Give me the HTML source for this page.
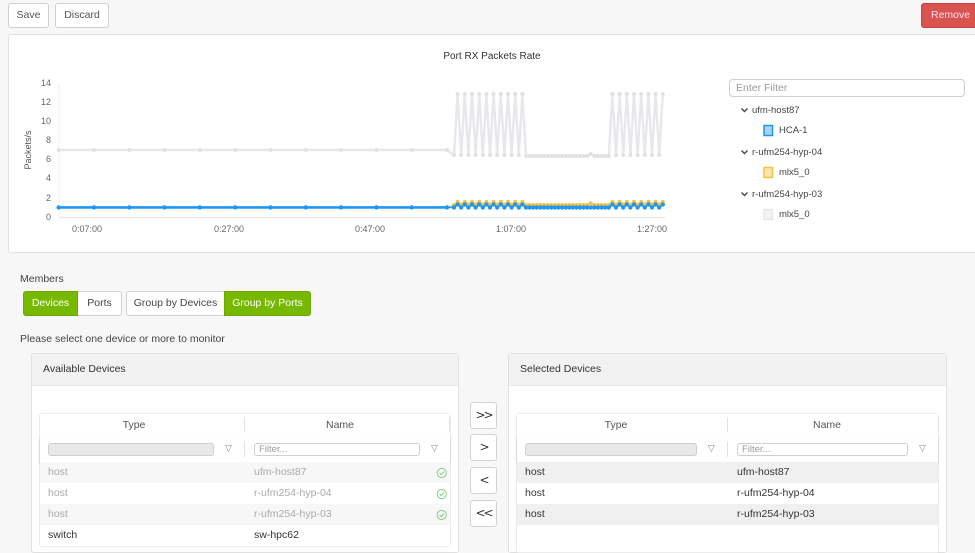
<!DOCTYPE html>
<html><head><meta charset="utf-8">
<style>
*{box-sizing:border-box;margin:0;padding:0}
html,body{width:975px;height:547px;overflow:hidden;background:#f7f7f7;font-family:"Liberation Sans",Arial,sans-serif;color:#333;font-size:10.5px}
.a{position:absolute}
.t{position:absolute;height:14px;line-height:14px;white-space:nowrap}
.btn{position:absolute;background:#fff;border:1px solid #cfcfcf;border-radius:3px;text-align:center;color:#555;font-size:10.5px}
.card{position:absolute;background:#fff;border:1px solid #e3e3e3;border-radius:3px}
.ph{position:absolute;left:0;right:0;top:0;height:32px;background:#f2f2f2;border-bottom:1px solid #e6e6e6}
.gin{position:absolute;height:13px;background:#e8e8e8;border:1px solid #cfcfcf;border-radius:3px}
.fin{position:absolute;height:13px;background:#fff;border:1px solid #cfcfcf;border-radius:3px;color:#999;font-size:9.5px;line-height:11px;padding-left:4px}
.fun{position:absolute;color:#888;font-size:9px;font-family:"DejaVu Sans",sans-serif;line-height:10px}
.div{position:absolute;width:1px;background:#e2e2e2}
.row{position:absolute;height:21px;line-height:21px;white-space:nowrap}
.arr{position:absolute;left:470px;width:27px;height:27px;background:#fff;border:1px solid #d2d2d2;border-radius:3px;text-align:center;line-height:25px;font-size:12px;color:#333;font-family:"DejaVu Sans",sans-serif;letter-spacing:-2px}
</style></head><body>

<!-- top buttons -->
<div class="btn" style="left:8px;top:3px;width:41px;height:25px;line-height:23px">Save</div>
<div class="btn" style="left:55px;top:3px;width:54px;height:25px;line-height:23px">Discard</div>
<div class="a" style="left:921px;top:3px;width:60px;height:25px;background:#d9534f;border:1px solid #c9413d;border-radius:3px;color:#fde;line-height:23px;padding-left:9px;font-size:10.5px">Remove</div>

<!-- chart card -->
<div class="card" style="left:8px;top:34px;width:975px;height:219px"></div>
<div class="t" style="left:392px;top:50px;width:200px;text-align:center;font-size:10px;color:#333">Port RX Packets Rate</div>

<svg class="a" style="left:0;top:0" width="975" height="260" xmlns="http://www.w3.org/2000/svg">
<defs>
<marker id="mg" markerUnits="userSpaceOnUse" markerWidth="5" markerHeight="5" refX="2.5" refY="2.5"><circle cx="2.5" cy="2.5" r="2" fill="#e0e1e5"/></marker>
<marker id="my" markerUnits="userSpaceOnUse" markerWidth="5" markerHeight="5" refX="2.5" refY="2.5"><circle cx="2.5" cy="2.5" r="2" fill="#f6c343"/></marker>
<marker id="mb" markerUnits="userSpaceOnUse" markerWidth="6" markerHeight="6" refX="3" refY="3"><circle cx="3" cy="3" r="2.2" fill="#2196f3"/></marker>
</defs>
<g font-family="Liberation Sans, Arial, sans-serif" font-size="9" fill="#666" text-anchor="end">
<text x="51" y="86">14</text>
<text x="51" y="105">12</text>
<text x="51" y="124">10</text>
<text x="51" y="143">8</text>
<text x="51" y="162">6</text>
<text x="51" y="181">4</text>
<text x="51" y="201">2</text>
<text x="51" y="220">0</text>
</g>
<g font-family="Liberation Sans, Arial, sans-serif" font-size="9" fill="#666" text-anchor="middle">
<text x="87" y="232">0:07:00</text>
<text x="229" y="232">0:27:00</text>
<text x="370" y="232">0:47:00</text>
<text x="511" y="232">1:07:00</text>
<text x="652" y="232">1:27:00</text>
</g>
<text x="0" y="0" transform="translate(31,150) rotate(-90)" font-family="Liberation Sans, Arial, sans-serif" font-size="9" fill="#555" text-anchor="middle">Packets/s</text>
<line x1="59" y1="83" x2="59" y2="217" stroke="#efefef" stroke-width="1"/>
<line x1="59" y1="217.5" x2="665" y2="217.5" stroke="#e8e8e8" stroke-width="1.5"/>

<!-- gray series -->
<polyline fill="none" stroke="#e7e8ec" stroke-width="2.4" stroke-linejoin="round" marker-start="url(#mg)" marker-mid="url(#mg)" marker-end="url(#mg)"
points="58.7,150 94,150 129.3,150 164.6,150 199.9,150 235.2,150 270.5,150 305.8,150 341.1,150 376.4,150 411.7,150 447,150 454,155 457.6,94 461.2,155 464.8,94 468.4,155 472,94 475.6,155 479.2,94 482.8,155 486.4,94 490,155 493.6,94 497.2,155 500.8,94 504.4,155 508,94 511.6,155 515.2,94 518.8,155 522.4,94 526,156 529.6,156 533.2,156 536.8,156 540.4,156 544,156 547.6,156 551.2,156 554.8,156 558.4,156 562,156 565.6,156 569.2,156 572.8,156 576.4,156 580,156 583.6,156 587.2,156 590.8,154 594.4,156 598,156 601.6,156 605.2,156 608.8,156 612.4,94 616,155 619.6,94 623.2,155 626.8,94 630.4,155 634,94 637.6,155 641.2,94 644.8,155 648.4,94 652,155 655.6,94 659.2,155 662.8,94"/>

<!-- yellow series -->
<polyline fill="none" stroke="#f8cf5e" stroke-width="1.5" marker-start="url(#my)" marker-mid="url(#my)" marker-end="url(#my)"
points="58.7,207.4 94,207.4 129.3,207.4 164.6,207.4 199.9,207.4 235.2,207.4 270.5,207.4 305.8,207.4 341.1,207.4 376.4,207.4 411.7,207.4 447,207.4 454,205 457.6,201.7 461.2,204.5 464.8,201.7 468.4,204.5 472,201.7 475.6,204.5 479.2,201.7 482.8,204.5 486.4,201.7 490,204.5 493.6,201.7 497.2,204.5 500.8,201.7 504.4,204.5 508,201.7 511.6,204.5 515.2,201.7 518.8,204.5 522.4,201.7 526,205 529.6,205 533.2,205 536.8,205 540.4,205 544,205 547.6,205 551.2,205 554.8,205 558.4,205 562,205 565.6,205 569.2,205 572.8,205 576.4,205 580,205 583.6,205 587.2,205 590.8,203.3 594.4,205 598,205 601.6,205 605.2,205 608.8,205 612.4,201.7 616,204.5 619.6,201.7 623.2,204.5 626.8,201.7 630.4,204.5 634,201.7 637.6,204.5 641.2,201.7 644.8,204.5 648.4,201.7 652,204.5 655.6,201.7 659.2,204.5 662.8,201.7"/>

<!-- blue series -->
<polyline fill="none" stroke="#2196f3" stroke-width="2.6" stroke-linejoin="round" marker-start="url(#mb)" marker-mid="url(#mb)" marker-end="url(#mb)"
points="58.7,207.4 94,207.4 129.3,207.4 164.6,207.4 199.9,207.4 235.2,207.4 270.5,207.4 305.8,207.4 341.1,207.4 376.4,207.4 411.7,207.4 447,207.4"/>
<polyline fill="none" stroke="#2196f3" stroke-width="1.5" stroke-linejoin="round" marker-mid="url(#mb)" marker-end="url(#mb)"
points="447,207.4 454,207.5 457.6,204.5 461.2,207.5 464.8,204.5 468.4,207.5 472,204.5 475.6,207.5 479.2,204.5 482.8,207.5 486.4,204.5 490,207.5 493.6,204.5 497.2,207.5 500.8,204.5 504.4,207.5 508,204.5 511.6,207.5 515.2,204.5 518.8,207.5 522.4,204.5 526,207.5 529.6,207.5 533.2,207.5 536.8,207.5 540.4,207.5 544,207.5 547.6,207.5 551.2,207.5 554.8,207.5 558.4,207.5 562,207.5 565.6,207.5 569.2,207.5 572.8,207.5 576.4,207.5 580,207.5 583.6,207.5 587.2,207.5 590.8,207.5 594.4,207.5 598,207.5 601.6,207.5 605.2,207.5 608.8,207.5 612.4,204.5 616,207.5 619.6,204.5 623.2,207.5 626.8,204.5 630.4,207.5 634,204.5 637.6,207.5 641.2,204.5 644.8,207.5 648.4,204.5 652,207.5 655.6,204.5 659.2,207.5 662.8,204.5"/>

<!-- legend chevrons & checkboxes -->
<polyline points="741.5,108.5 744.5,111.5 747.5,108.5" fill="none" stroke="#444" stroke-width="1.4"/>
<polyline points="741.5,150.5 744.5,153.5 747.5,150.5" fill="none" stroke="#444" stroke-width="1.4"/>
<polyline points="741.5,192.5 744.5,195.5 747.5,192.5" fill="none" stroke="#444" stroke-width="1.4"/>
<rect x="764" y="125.5" width="8.5" height="10" fill="#a9d3f6" stroke="#2196f3" stroke-width="1.5"/>
<rect x="764" y="167.5" width="8.5" height="10" fill="#fde7ae" stroke="#f6c343" stroke-width="1.5"/>
<rect x="764" y="209.5" width="8.5" height="10" fill="#f1f2f4" stroke="#e6e7eb" stroke-width="1.5"/>
</svg>

<!-- legend -->
<div class="a" style="left:729px;top:79px;width:236px;height:18px;border:1px solid #cfcfcf;border-radius:4px;background:#fff;color:#9a9a9a;font-size:10.5px;line-height:16px;padding-left:6px">Enter Filter</div>
<div class="t" style="left:752px;top:104px;font-size:9.5px;color:#444">ufm-host87</div>
<div class="t" style="left:779px;top:124px;font-size:9.5px;color:#444">HCA-1</div>
<div class="t" style="left:752px;top:146px;font-size:9.5px;color:#444">r-ufm254-hyp-04</div>
<div class="t" style="left:779px;top:166px;font-size:9.5px;color:#444">mlx5_0</div>
<div class="t" style="left:752px;top:188px;font-size:9.5px;color:#444">r-ufm254-hyp-03</div>
<div class="t" style="left:779px;top:208px;font-size:9.5px;color:#444">mlx5_0</div>

<!-- members -->
<div class="t" style="left:20px;top:272px;color:#444">Members</div>
<div class="a" style="left:23px;top:291px;width:55px;height:25px;background:#76b900;border:1px solid #6aa800;border-radius:3px 0 0 3px;color:#fff;text-align:center;line-height:23px">Devices</div>
<div class="a" style="left:78px;top:291px;width:44px;height:25px;background:#fff;border:1px solid #d2d2d2;border-left:none;border-radius:0 3px 3px 0;color:#444;text-align:center;line-height:23px">Ports</div>
<div class="a" style="left:126px;top:291px;width:98px;height:25px;background:#fff;border:1px solid #d2d2d2;border-right:none;border-radius:3px 0 0 3px;color:#444;text-align:center;line-height:23px">Group by Devices</div>
<div class="a" style="left:224px;top:291px;width:87px;height:25px;background:#76b900;border:1px solid #6aa800;border-radius:0 3px 3px 0;color:#fff;text-align:center;line-height:23px">Group by Ports</div>
<div class="t" style="left:20px;top:332px;color:#444">Please select one device or more to monitor</div>

<!-- Available panel -->
<div class="card" style="left:31px;top:353px;width:428px;height:200px;border-color:#e0e0e0"><div class="ph"></div></div>
<div class="t" style="left:43px;top:362px;color:#333">Available Devices</div>
<div class="a" style="left:39px;top:413px;width:412px;height:134px;background:#fff;border:1px solid #ececec;border-radius:3px"></div>
<div class="t" style="left:84px;top:418px;width:100px;text-align:center;color:#555">Type</div>
<div class="t" style="left:290px;top:418px;width:100px;text-align:center;color:#555">Name</div>
<div class="div" style="left:244px;top:417px;height:15px"></div>
<div class="div" style="left:449px;top:417px;height:15px"></div>
<div class="a" style="left:40px;top:436px;width:410px;height:26px;background:#fff;box-shadow:0 2px 3px rgba(0,0,0,0.18)"></div>
<div class="gin" style="left:48px;top:443px;width:166px"></div>
<div class="fun" style="left:225px;top:444px">▽</div>
<div class="div" style="left:244px;top:441px;height:16px"></div>
<div class="fin" style="left:254px;top:443px;width:166px">Filter...</div>
<div class="fun" style="left:431px;top:444px">▽</div>
<div class="row" style="left:40px;top:462px;width:410px;background:#f7f7f7"></div>
<div class="row" style="left:40px;top:504px;width:410px;background:#f7f7f7"></div>
<div class="row" style="left:48px;top:462px;color:#aaa">host</div>
<div class="row" style="left:254px;top:462px;color:#aaa">ufm-host87</div>
<div class="row" style="left:48px;top:483px;color:#aaa">host</div>
<div class="row" style="left:254px;top:483px;color:#aaa">r-ufm254-hyp-04</div>
<div class="row" style="left:48px;top:504px;color:#aaa">host</div>
<div class="row" style="left:254px;top:504px;color:#aaa">r-ufm254-hyp-03</div>
<div class="row" style="left:48px;top:525px;color:#333">switch</div>
<div class="row" style="left:254px;top:525px;color:#333">sw-hpc62</div>
<svg class="a" style="left:435px;top:465px" width="14" height="60" xmlns="http://www.w3.org/2000/svg">
<g fill="none" stroke="#86cf86" stroke-width="1">
<circle cx="6.7" cy="8" r="4.6"/><polyline points="4.6,8 6.2,9.6 9,6.6"/>
<circle cx="6.7" cy="29" r="4.6"/><polyline points="4.6,29 6.2,30.6 9,27.6"/>
<circle cx="6.7" cy="50" r="4.6"/><polyline points="4.6,50 6.2,51.6 9,48.6"/>
</g></svg>

<!-- arrows -->
<div class="arr" style="top:402px">&gt;&gt;</div>
<div class="arr" style="top:434px">&gt;</div>
<div class="arr" style="top:467px">&lt;</div>
<div class="arr" style="top:500px">&lt;&lt;</div>

<!-- Selected panel -->
<div class="card" style="left:508px;top:353px;width:439px;height:200px;border-color:#e0e0e0"><div class="ph"></div></div>
<div class="t" style="left:520px;top:362px;color:#333">Selected Devices</div>
<div class="a" style="left:516px;top:413px;width:423px;height:140px;background:#fff;border:1px solid #ececec;border-radius:3px"></div>
<div class="t" style="left:566px;top:418px;width:100px;text-align:center;color:#555">Type</div>
<div class="t" style="left:777px;top:418px;width:100px;text-align:center;color:#555">Name</div>
<div class="div" style="left:727px;top:417px;height:15px"></div>
<div class="div" style="left:938px;top:417px;height:15px"></div>
<div class="a" style="left:517px;top:436px;width:421px;height:26px;background:#fff;box-shadow:0 2px 3px rgba(0,0,0,0.18)"></div>
<div class="gin" style="left:525px;top:443px;width:172px"></div>
<div class="fun" style="left:708px;top:444px">▽</div>
<div class="div" style="left:727px;top:441px;height:16px"></div>
<div class="fin" style="left:737px;top:443px;width:171px">Filter...</div>
<div class="fun" style="left:919px;top:444px">▽</div>
<div class="row" style="left:517px;top:462px;width:421px;background:#f0f0f0"></div>
<div class="row" style="left:517px;top:504px;width:421px;background:#f0f0f0"></div>
<div class="row" style="left:525px;top:462px;color:#333">host</div>
<div class="row" style="left:737px;top:462px;color:#333">ufm-host87</div>
<div class="row" style="left:525px;top:483px;color:#333">host</div>
<div class="row" style="left:737px;top:483px;color:#333">r-ufm254-hyp-04</div>
<div class="row" style="left:525px;top:504px;color:#333">host</div>
<div class="row" style="left:737px;top:504px;color:#333">r-ufm254-hyp-03</div>

</body></html>
